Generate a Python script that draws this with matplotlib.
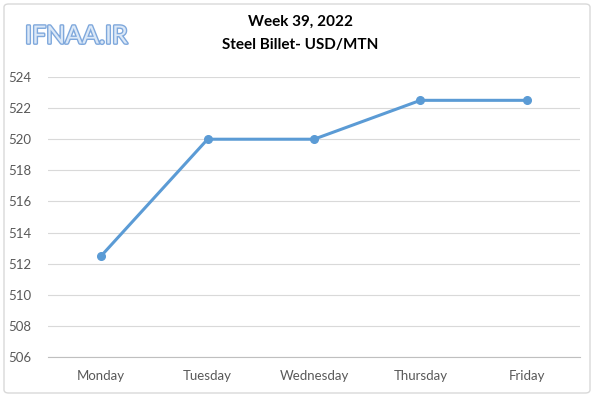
import matplotlib
matplotlib.use("Agg")
import matplotlib.pyplot as plt
import matplotlib.patheffects as pe
from matplotlib.patches import FancyBboxPatch

days = ["Monday", "Tuesday", "Wednesday", "Thursday", "Friday"]
prices = [512.5, 520, 520, 522.5, 522.5]
yticks = [506, 508, 510, 512, 514, 516, 518, 520, 522, 524]
title_line1 = "Week 39, 2022"
title_line2 = "Steel Billet- USD/MTN"
watermark = "IFNAA.IR"

plt.rcParams['font.family'] = ['Lato', 'DejaVu Sans']

fig = plt.figure(figsize=(6, 3.97), dpi=100)
fig.patch.set_facecolor("white")

# outer chart border
border = FancyBboxPatch((4/600, 4/397), 586/600, 389/397,
                        boxstyle="round,pad=0,rounding_size=0.008",
                        transform=fig.transFigure, fill=False,
                        edgecolor="#d9d9d9", linewidth=1.0)
fig.patches.append(border)

ax = fig.add_axes([48/600, 1 - 357/397, 532/600, 280/397])
x = list(range(len(days)))
ax.plot(x, prices, color="#5B9BD5", linewidth=2.2, marker="o",
        markersize=5.5, zorder=3, solid_capstyle="round")

ax.set_xlim(-0.5, len(days) - 0.5)
ax.set_ylim(506, 524)
ax.set_yticks(yticks)
ax.set_yticklabels([str(v) for v in yticks])
ax.set_xticks(x)
ax.set_xticklabels(days)
ax.grid(axis="y", color="#d9d9d9", linewidth=0.8)
ax.set_axisbelow(True)
for s in ["top", "right", "left"]:
    ax.spines[s].set_visible(False)
ax.spines["bottom"].set_color("#bfbfbf")
ax.spines["bottom"].set_linewidth(0.8)
ax.tick_params(axis="both", length=0, labelsize=9.5, colors="#595959")
ax.tick_params(axis="y", pad=12)
ax.tick_params(axis="x", pad=9)

fig.text(0.5, 1 - 22/397, title_line1, ha="center", va="center",
         fontsize=11, fontweight="bold", color="#000000")
fig.text(0.5, 1 - 45/397, title_line2, ha="center", va="center",
         fontsize=11, fontweight="bold", color="#000000")

wm = fig.text(25/600, 1 - 36/397, watermark, ha="left", va="center",
              fontsize=18, color="#dbe8f7", fontfamily=["Lato", "DejaVu Sans"])
wm.set_path_effects([pe.withStroke(linewidth=2.0, foreground="#7fa8dc")])

fig.savefig("out.png", dpi=100, facecolor="white")
